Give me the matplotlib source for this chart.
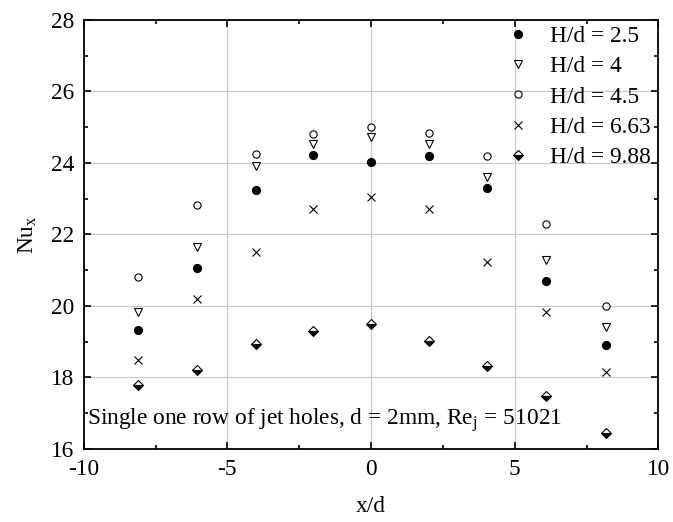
import matplotlib
matplotlib.use("Agg")
import matplotlib.pyplot as plt
from matplotlib.ticker import MultipleLocator

# x/d positions of the jet-hole row measurements
x_d = [-8.12, -6.07, -4.02, -2.01, 0.0, 2.03, 4.05, 6.09, 8.19]

# local Nusselt number per nozzle-to-plate spacing
nu_h25 = [19.32, 21.07, 23.25, 24.22, 24.02, 24.20, 23.30, 20.70, 18.90]
nu_h4 = [19.83, 21.65, 23.92, 24.53, 24.71, 24.53, 23.61, 21.28, 19.42]
nu_h45 = [20.81, 22.82, 24.24, 24.81, 25.00, 24.83, 24.20, 22.30, 20.00]
nu_h663 = [18.48, 20.19, 21.51, 22.70, 23.03, 22.70, 21.22, 19.83, 18.14]
nu_h988 = [17.79, 18.20, 18.93, 19.30, 19.49, 19.02, 18.32, 17.49, 16.43]

labels = ["H/d = 2.5", "H/d = 4", "H/d = 4.5", "H/d = 6.63", "H/d = 9.88"]

plt.rcParams["font.family"] = ["Liberation Serif", "DejaVu Serif"]
plt.rcParams["mathtext.fontset"] = "stix"
plt.rcParams["axes.unicode_minus"] = False
FS = 16.8

fig = plt.figure(figsize=(6.73, 5.22), dpi=100)
ax = fig.add_axes([0.1244, 0.1402, 0.8538, 0.8219])

ax.plot(x_d, nu_h25, "o", ms=5.8, mfc="black", mec="black", mew=0.8, ls="none", label=labels[0])
ax.plot(x_d, nu_h4, "v", ms=6.2, mfc="white", mec="black", mew=0.8, ls="none", label=labels[1])
ax.plot(x_d, nu_h45, "o", ms=5.2, mfc="white", mec="black", mew=0.8, ls="none", label=labels[2])
ax.plot(x_d, nu_h663, "x", ms=6.0, mec="black", mew=0.8, ls="none", label=labels[3])
ax.plot(x_d, nu_h988, "D", ms=5.0, fillstyle="bottom", mfc="black", mfcalt="white",
        mec="black", mew=0.8, ls="none", label=labels[4])

ax.set_xlim(-10, 10)
ax.set_ylim(16, 28)
ax.xaxis.set_major_locator(MultipleLocator(5))
ax.xaxis.set_minor_locator(MultipleLocator(2.5))
ax.yaxis.set_major_locator(MultipleLocator(2))
ax.yaxis.set_minor_locator(MultipleLocator(1))
ax.grid(True, which="major", color="#c8c8c8", linewidth=0.8)
ax.set_axisbelow(True)

for s in ax.spines.values():
    s.set_linewidth(1.3)
ax.tick_params(which="both", direction="in", top=True, right=True, width=1.2, labelsize=FS)
ax.tick_params(which="major", length=5)
ax.tick_params(which="minor", length=3)
ax.tick_params(axis="x", pad=7)
ax.tick_params(axis="y", pad=7)

ax.set_xlabel("x/d", fontsize=FS, labelpad=12)
ax.set_ylabel(r"Nu$_\mathregular{x}$", fontsize=FS, labelpad=9)

ax.text(0.006, 0.035, r"Single one row of jet holes, d = 2mm, Re$_\mathregular{j}$ = 51021",
        transform=ax.transAxes, fontsize=FS, ha="left", va="bottom")

ax.legend(loc="upper right", bbox_to_anchor=(0.993, 0.994), frameon=False, fontsize=FS,
          handlelength=1.0, handletextpad=0.85, labelspacing=0.38, borderaxespad=0.0,
          borderpad=0.15, numpoints=1)

fig.savefig("out.png", dpi=100)
